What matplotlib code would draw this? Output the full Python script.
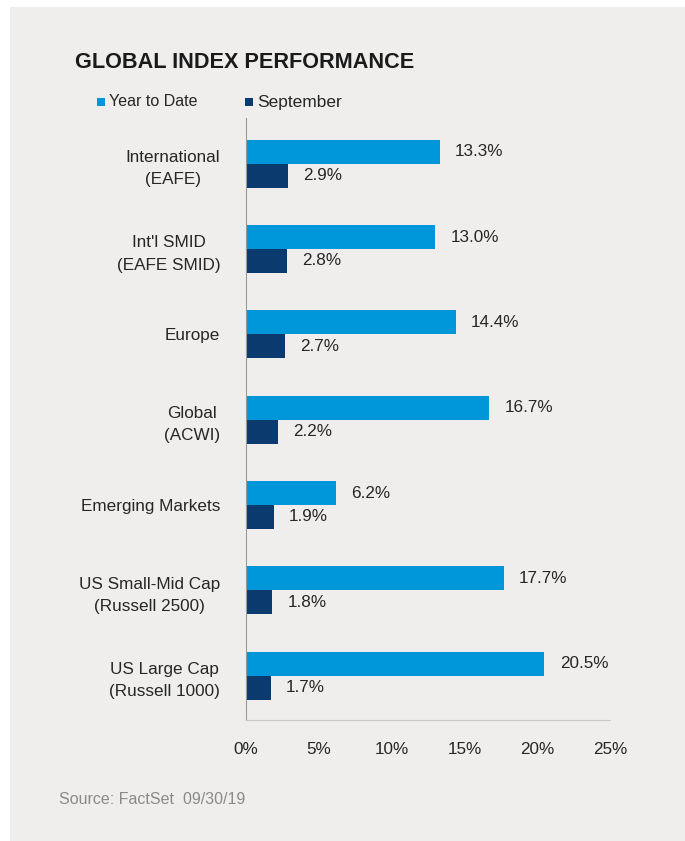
import matplotlib
matplotlib.use("Agg")
import matplotlib.pyplot as plt
from matplotlib.patches import Rectangle
from matplotlib import font_manager

categories = ["International\n(EAFE)", "Int'l SMID\n(EAFE SMID)", "Europe", "Global\n(ACWI)",
              "Emerging Markets", "US Small-Mid Cap\n(Russell 2500)", "US Large Cap\n(Russell 1000)"]
ytd = [13.3, 13.0, 14.4, 16.7, 6.2, 17.7, 20.5]
september = [2.9, 2.8, 2.7, 2.2, 1.9, 1.8, 1.7]
xticks = [0, 5, 10, 15, 20, 25]
xtick_labels = ["0%", "5%", "10%", "15%", "20%", "25%"]

names = {f.name for f in font_manager.fontManager.ttflist}
narrow = "Liberation Sans Narrow" if "Liberation Sans Narrow" in names else "Liberation Sans"
FONT = [narrow, "DejaVu Sans"]

C_YTD = "#0097DA"
C_SEP = "#0B3A6E"
BG = "#EFEEED"
TXT = "#262626"
FS = 12.3

fig = plt.figure(figsize=(6.85, 8.41), dpi=100)
fig.patch.set_facecolor("white")
fig.add_artist(Rectangle((10/685, -0.01), 1, 1.01 - 7/841, transform=fig.transFigure,
                         facecolor=BG, edgecolor="none", zorder=0))

ax = fig.add_axes([246/685, 1 - 720/841, 364/685, 602/841])
ax.set_facecolor("none")
n = len(categories)
h = 0.28
ys = list(range(n))
ax.barh([y - h/2 for y in ys], ytd, height=h, color=C_YTD)
ax.barh([y + h/2 for y in ys], september, height=h, color=C_SEP)
for y, v in zip(ys, ytd):
    ax.text(v + 1.05, y - h/2, f"{v:.1f}%", va="center", ha="left", fontsize=FS,
            family=FONT, color=TXT)
for y, v in zip(ys, september):
    ax.text(v + 1.05, y + h/2, f"{v:.1f}%", va="center", ha="left", fontsize=FS,
            family=FONT, color=TXT)

ax.set_xlim(0, 25)
ax.set_ylim(n - 0.48, -0.535)
ax.set_xticks(xticks)
ax.set_xticklabels(xtick_labels, family=FONT, fontsize=FS, color=TXT)
ax.set_yticks(ys)
ax.set_yticklabels(categories, family=FONT, fontsize=FS, color=TXT, ha="right",
                   multialignment="center", linespacing=1.6)
ax.tick_params(axis="both", length=0)
ax.tick_params(axis="x", pad=16)
ax.tick_params(axis="y", pad=18.5)
for s in ["top", "right"]:
    ax.spines[s].set_visible(False)
ax.spines["left"].set_color("#999999")
ax.spines["left"].set_linewidth(0.8)
ax.spines["bottom"].set_color("#C8C8C8")
ax.spines["bottom"].set_linewidth(0.8)

fig.text(75/685, 1 - 62/841, "GLOBAL INDEX PERFORMANCE", family=FONT, fontsize=15.6,
         fontweight="bold", color="#1a1a1a", va="center", ha="left")
# legend
fig.add_artist(Rectangle((97/685, 1 - 106/841), 8/685, 8/841, transform=fig.transFigure,
                         facecolor=C_YTD, edgecolor="none"))
fig.text(109/685, 1 - 102/841, "Year to Date", family=FONT, fontsize=11.5, color=TXT,
         va="center", ha="left")
fig.add_artist(Rectangle((245/685, 1 - 106/841), 8/685, 8/841, transform=fig.transFigure,
                         facecolor=C_SEP, edgecolor="none"))
fig.text(257/685, 1 - 102/841, "September", family=FONT, fontsize=12.5, color=TXT,
         va="center", ha="left")

fig.text(59/685, 1 - 800/841, "Source: FactSet  09/30/19", family=FONT, fontsize=11.5,
         color="#8a8a8a", va="center", ha="left")

fig.savefig("out.png", dpi=100, facecolor=fig.get_facecolor())
